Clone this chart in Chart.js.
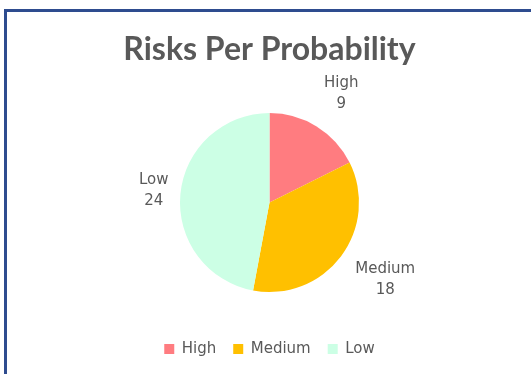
<!DOCTYPE html>
<html>
<head>
<meta charset="utf-8">
<script src="https://cdn.jsdelivr.net/npm/chart.js@4/dist/chart.umd.min.js"></script>
<style>
	html, body { margin: 0; padding: 0; background: #fff; }
	#wrap { position: relative; width: 531px; height: 374px; overflow: hidden; }
	#frame { position: absolute; left: 4px; top: 9px; width: 600px; height: 400px;
		border-left: 3px solid #2E4C8F; border-top: 3px solid #2E4C8F; pointer-events: none; }
	canvas { position: absolute; left: 0; top: 0; }
</style>
</head>
<body>
<div id="wrap">
	<canvas id="risk_chart" width="531" height="374"></canvas>
	<div id="frame"></div>
</div>
<script>
var categories = ["High", "Medium", "Low"];
var counts = [9, 18, 24];
var sliceColors = ["#FF7C80", "#FFC000", "#CCFFE5"];

var LABEL_LINE = 20.5;
var LABEL_GAP = 18;
var LABEL_NUDGE_X = 6;
var TEXT_FONT = 'DejaVu Sans';
var TEXT_SIZE = 15;

// data labels drawn outside each slice, like Excel's "outside end"
var outsideLabels = {
	id: 'outsideLabels',
	afterDatasetsDraw: function(chart) {
		var ctx = chart.ctx;
		var meta = chart.getDatasetMeta(0);
		ctx.save();
		ctx.font = TEXT_SIZE + 'px "' + TEXT_FONT + '"';
		ctx.fillStyle = '#595959';
		ctx.textAlign = 'center';
		ctx.textBaseline = 'middle';
		meta.data.forEach(function(arc, ix) {
			var mid = (arc.startAngle + arc.endAngle) / 2;
			var cos = Math.cos(mid), sin = Math.sin(mid);
			var lines = [categories[ix], String(counts[ix])];
			var w = Math.max(ctx.measureText(lines[0]).width, ctx.measureText(lines[1]).width);
			var h = 2 * LABEL_LINE;
			var px = arc.x + (arc.outerRadius + LABEL_GAP) * cos;
			var py = arc.y + (arc.outerRadius + LABEL_GAP) * sin;
			var cx = px + cos * w / 2 + LABEL_NUDGE_X;
			var cy = py + sin * h / 2;
			ctx.fillText(lines[0], cx, cy - LABEL_LINE / 2);
			ctx.fillText(lines[1], cx, cy + LABEL_LINE / 2);
		});
		ctx.restore();
	}
};

var ctx = document.getElementById("risk_chart");
var riskChart = new Chart(ctx, {
	type: 'pie',
	data: {
		labels: categories,
		datasets: [{
			data: counts,
			backgroundColor: sliceColors,
			borderWidth: 0
		}]
	},
	options: {
		responsive: false,
		animation: false,
		radius: 89.5,
		layout: { padding: { left: 8, right: 0, top: 0, bottom: 7.5 } },
		plugins: {
			title: {
				display: true,
				text: 'Risks Per Probability',
				color: '#595959',
				font: { family: 'Lato', size: 32, weight: 'bold' },
				padding: { top: 30.3, bottom: 11.8 }
			},
			legend: {
				position: 'bottom',
				labels: {
					color: '#595959',
					font: { family: TEXT_FONT, size: TEXT_SIZE },
					boxWidth: 10,
					boxHeight: 10,
					padding: 17
				}
			},
			tooltip: { enabled: false }
		}
	},
	plugins: [outsideLabels]
});
</script>
</body>
</html>
